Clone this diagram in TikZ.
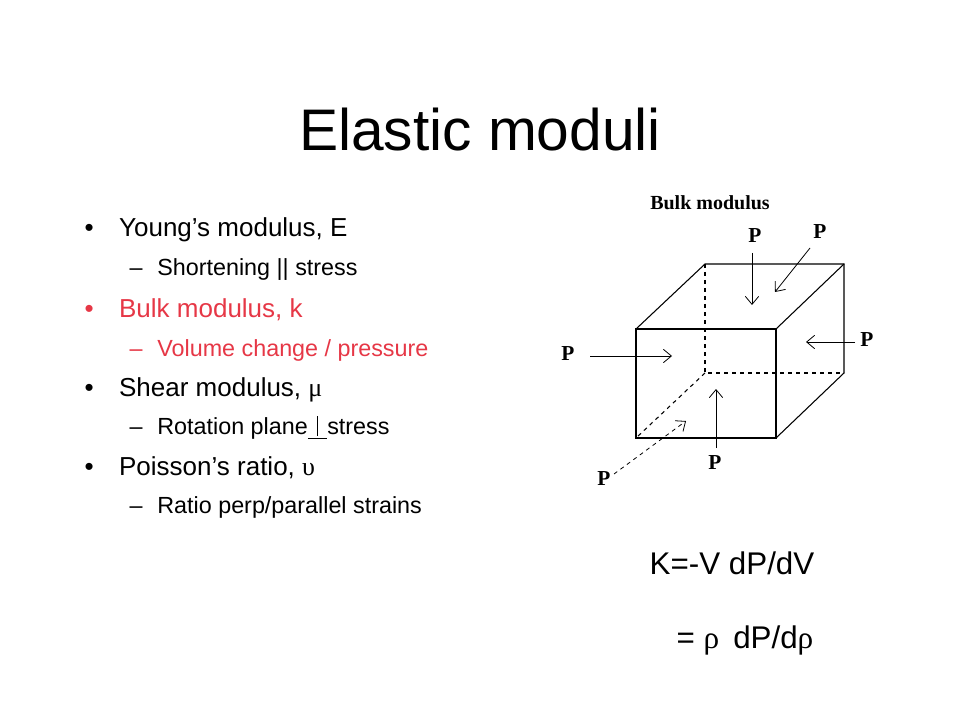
\documentclass[tikz,border=0pt]{standalone}
\usepackage{fontspec}
\setmainfont{Liberation Sans}
\newfontfamily\symfont{Liberation Serif}
\definecolor{myred}{RGB}{230,55,70}
\usetikzlibrary{arrows,arrows.meta,positioning}
\begin{document}
\begin{tikzpicture}[
  x=0.75pt, y=-0.75pt,
  edge/.style={thick},
  hidden/.style={thick, dashed},
  push/.style={-{Straight Barb[length=6pt,width=10pt]}, semithick},
  plabel/.style={font=\symfont\bfseries\fontsize{16}{16}\selectfont},
  bullet/.style={anchor=west, font=\fontsize{19.5}{20}\selectfont},
  subbullet/.style={anchor=west, font=\fontsize{17.5}{18}\selectfont}
]
\useasboundingbox (0,0) rectangle (960,720);

\node (title) at (480,130) {\fontsize{44}{46}\selectfont Elastic moduli};

% list on the left
\node[bullet] (b1) at (80,230) {\textbullet\hspace{19pt}Young's modulus, E};
\node[subbullet] (s1) at (125,270) {--\hspace{11pt}Shortening || stress};
\node[bullet, text=myred] (b2) at (80,310) {\textbullet\hspace{19pt}Bulk modulus, k};
\node[subbullet, text=myred] (s2) at (125,350) {--\hspace{11pt}Volume change / pressure};
\node[bullet] (b3) at (80,390) {\textbullet\hspace{19pt}Shear modulus, {\symfont μ}};
\node[subbullet] (s3) at (125,428) {--\hspace{11pt}Rotation plane\underline{\hspace{7pt}\rule[-1pt]{0.6pt}{15pt}\hspace{7pt}}stress};
\node[bullet] (b4) at (80,468) {\textbullet\hspace{19pt}Poisson's ratio, {\symfont υ}};
\node[subbullet] (s4) at (125,507) {--\hspace{11pt}Ratio perp/parallel strains};

% cube
\coordinate (fa) at (636,329); \coordinate (fb) at (776,329);
\coordinate (fc) at (776,438); \coordinate (fd) at (636,438);
\coordinate (ba) at (705,264); \coordinate (bb) at (844,264);
\coordinate (bc) at (844,373); \coordinate (bd) at (705,373);
\draw[edge] (fa) -- (fb) -- (fc) -- (fd) -- cycle;
\draw[edge] (fa) -- (ba) -- (bb) -- (bc) -- (fc);
\draw[edge] (fb) -- (bb);
\draw[hidden] (ba) -- (bd) -- (bc);
\draw[hidden] (bd) -- (fd);

\node[font=\symfont\bfseries\fontsize{15}{15}\selectfont] (cap) at (710,203) {Bulk modulus};

% forces
\node[plabel] (ptop) at (755,236) {P};
\node[plabel] (ptr) at (820,232) {P};
\node[plabel] (pright) at (867,340) {P};
\node[plabel] (pleft) at (568,354) {P};
\node[plabel] (pbot) at (715,463) {P};
\node[plabel] (pbl) at (604,479) {P};
\draw[push] (752,253) -- (752,305);
\draw[push] (810,248) -- (775,292);
\draw[push] (855,342) -- (806,342);
\draw[push] (590,356) -- (672,356);
\draw[push] (716,448) -- (716,389);
\draw[push, dashed] (614,474) -- (686,421);

\node[anchor=west, font=\fontsize{23.5}{24}\selectfont] (k1) at (645,563) {K=-V dP/dV};
\node[anchor=west, font=\fontsize{23.5}{24}\selectfont] (k2) at (672,640) {= {\symfont ρ}\, dP/d{\symfont ρ}};
\end{tikzpicture}
\end{document}
